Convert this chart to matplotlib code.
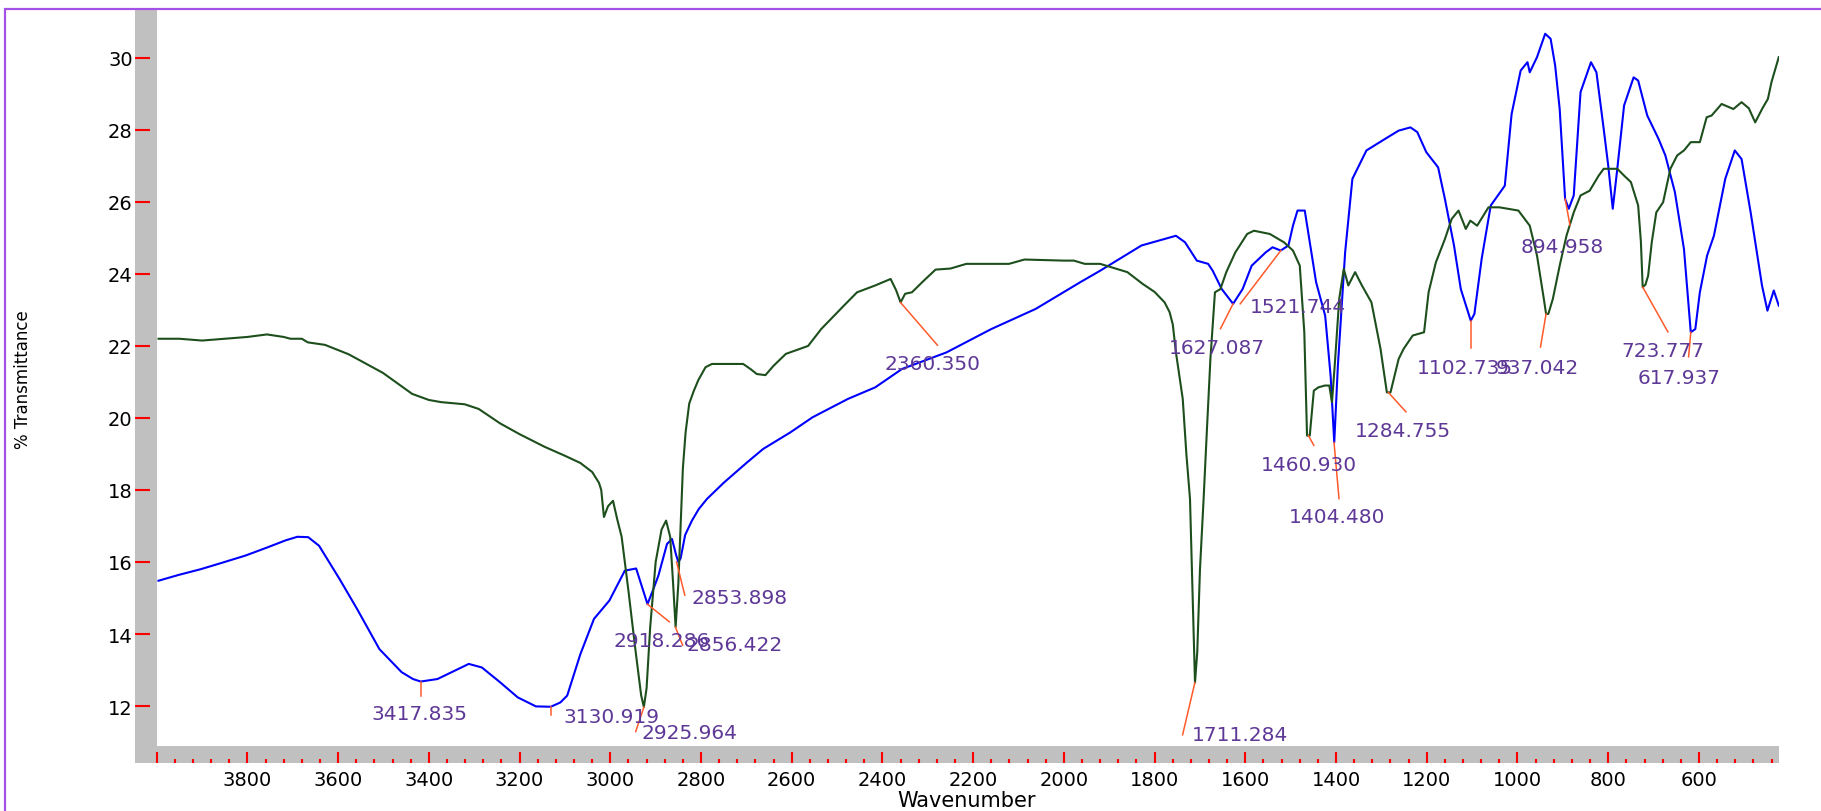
import numpy as np
import matplotlib.pyplot as plt
from matplotlib.patches import Rectangle
from matplotlib.ticker import MultipleLocator, FuncFormatter

### FTIR spectra ###

# blue spectrum (wavenumber, % transmittance)
blue_wn = [3996, 3952, 3903, 3853, 3804, 3755, 3716, 3690, 3666, 3642, 3597, 3558, 3509, 3460, 3435,
           3418, 3381, 3340, 3312, 3283, 3243, 3204, 3164, 3131, 3110, 3095, 3066, 3036, 3002, 2968,
           2943, 2930, 2918, 2905, 2894, 2875, 2864, 2855, 2850, 2845, 2835, 2820, 2805, 2787, 2750,
           2700, 2663, 2603, 2554, 2476, 2416, 2357, 2259, 2160, 2062, 1964, 1920, 1890, 1829, 1753,
           1733, 1707, 1682, 1672, 1652, 1627, 1606, 1586, 1555, 1540, 1522, 1505, 1495, 1485, 1469,
           1444, 1424, 1412, 1404, 1396, 1380, 1364, 1333, 1292, 1262, 1236, 1221, 1201, 1175, 1160,
           1140, 1125, 1103, 1095, 1079, 1059, 1028, 1013, 993, 978, 973, 957, 939, 927, 917,
           907, 895, 887, 876, 861, 838, 826, 810, 800, 790, 780, 765, 744, 734, 714,
           689, 674, 653, 633, 618, 608, 598, 582, 567, 542, 521, 506, 486, 461, 449,
           435, 424]
blue_t = [15.48, 15.64, 15.80, 15.99, 16.18, 16.41, 16.60, 16.70, 16.69, 16.45, 15.53, 14.69, 13.58, 12.94, 12.75,
          12.68, 12.75, 13.00, 13.17, 13.07, 12.66, 12.24, 11.99, 11.98, 12.10, 12.29, 13.44, 14.42, 14.93, 15.76,
          15.82, 15.30, 14.83, 15.25, 15.62, 16.50, 16.64, 16.20, 16.00, 16.10, 16.75, 17.15, 17.47, 17.75, 18.20,
          18.75, 19.14, 19.60, 20.02, 20.53, 20.85, 21.36, 21.82, 22.47, 23.03, 23.77, 24.09, 24.32, 24.79, 25.06,
          24.88, 24.37, 24.28, 24.09, 23.58, 23.17, 23.58, 24.23, 24.60, 24.74, 24.65, 24.79, 25.34, 25.76, 25.76,
          23.77, 22.84, 21.17, 19.32, 21.45, 24.60, 26.64, 27.43, 27.75, 27.98, 28.07, 27.94, 27.38, 26.96, 26.08,
          24.79, 23.58, 22.70, 22.89, 24.42, 25.90, 26.45, 28.44, 29.65, 29.88, 29.60, 30.02, 30.67, 30.53, 29.79,
          28.58, 26.08, 25.81, 26.18, 29.05, 29.88, 29.60, 28.03, 27.01, 25.81, 26.92, 28.68, 29.46, 29.37, 28.40,
          27.75, 27.29, 26.27, 24.69, 22.38, 22.47, 23.49, 24.51, 25.06, 26.64, 27.43, 27.19, 25.71, 23.68, 22.98,
          23.54, 23.12]

# green spectrum (wavenumber, % transmittance)
green_wn = [3996, 3950, 3900, 3850, 3800, 3757, 3720, 3705, 3680, 3667, 3629, 3577, 3501, 3437, 3400,
            3373, 3321, 3290, 3243, 3200, 3145, 3100, 3066, 3040, 3025, 3020, 3014, 3005, 2994, 2985,
            2975, 2960, 2945, 2932, 2926, 2920, 2912, 2900, 2887, 2877, 2868, 2862, 2856, 2850, 2845,
            2840, 2834, 2826, 2816, 2806, 2790, 2776, 2707, 2690, 2677, 2658, 2640, 2613, 2564, 2535,
            2485, 2456, 2416, 2382, 2370, 2360, 2350, 2335, 2310, 2283, 2250, 2215, 2121, 2087, 2000,
            1978, 1954, 1920, 1860, 1826, 1800, 1778, 1767, 1760, 1753, 1747, 1738, 1730, 1722, 1716,
            1711, 1706, 1700, 1692, 1685, 1677, 1667, 1655, 1642, 1622, 1596, 1581, 1546, 1515, 1495,
            1480, 1470, 1464, 1458, 1449, 1439, 1425, 1415, 1409, 1403, 1393, 1383, 1373, 1358, 1343,
            1322, 1302, 1288, 1280, 1262, 1251, 1231, 1206, 1196, 1180, 1160, 1145, 1130, 1114, 1104,
            1089, 1064, 1040, 998, 973, 957, 942, 937, 932, 922, 907, 892, 876, 861, 841,
            821, 810, 780, 765, 750, 734, 728, 724, 718, 712, 704, 694, 679, 663, 648,
            633, 618, 598, 583, 572, 550, 524, 506, 490, 476, 460, 448, 440, 424]
green_t = [22.20, 22.20, 22.15, 22.20, 22.25, 22.32, 22.25, 22.20, 22.20, 22.10, 22.03, 21.77, 21.25, 20.67, 20.50,
           20.44, 20.38, 20.25, 19.85, 19.55, 19.20, 18.95, 18.75, 18.50, 18.20, 18.00, 17.25, 17.55, 17.70, 17.20,
           16.70, 15.20, 13.60, 12.30, 11.97, 12.50, 14.20, 16.00, 16.90, 17.15, 16.70, 15.50, 14.19, 15.40, 17.00,
           18.60, 19.60, 20.40, 20.75, 21.05, 21.41, 21.50, 21.50, 21.35, 21.22, 21.19, 21.45, 21.78, 22.00, 22.47,
           23.12, 23.49, 23.68, 23.86, 23.55, 23.21, 23.45, 23.49, 23.80, 24.12, 24.15, 24.28, 24.28, 24.40, 24.37,
           24.37, 24.28, 24.28, 24.05, 23.72, 23.50, 23.21, 22.94, 22.60, 21.82, 21.30, 20.53, 19.00, 17.75, 15.00,
           12.65, 13.50, 15.80, 17.75, 19.60, 21.64, 23.49, 23.58, 24.05, 24.60, 25.11, 25.20, 25.11, 24.88, 24.65,
           24.23, 22.38, 19.51, 19.51, 20.76, 20.85, 20.90, 20.90, 20.44, 21.45, 23.31, 24.14, 23.68, 24.05, 23.68,
           23.21, 21.92, 20.71, 20.71, 21.64, 21.92, 22.29, 22.38, 23.49, 24.32, 24.97, 25.53, 25.76, 25.25, 25.48,
           25.34, 25.85, 25.85, 25.76, 25.34, 24.51, 23.31, 22.89, 22.89, 23.31, 24.23, 25.06, 25.71, 26.18, 26.31,
           26.73, 26.92, 26.92, 26.73, 26.55, 25.90, 24.90, 23.63, 23.70, 23.95, 24.88, 25.71, 25.99, 26.92, 27.29,
           27.43, 27.66, 27.66, 28.35, 28.40, 28.72, 28.58, 28.77, 28.60, 28.21, 28.60, 28.86, 29.33, 30.02]

# peak labels: text, peak position, end of leader line, label anchor (left edge, middle)
peak_text = ['3417.835', '3130.919', '2925.964', '2918.286', '2856.422', '2853.898', '2360.350',
             '1711.284', '1627.087', '1521.744', '1460.930', '1404.480', '1284.755', '1102.735',
             '937.042', '894.958', '723.777', '617.937']
peak_wn = [3417.835, 3130.919, 2925.964, 2918.286, 2856.422, 2853.898, 2360.350,
           1711.284, 1627.087, 1521.744, 1460.930, 1404.480, 1284.755, 1102.735,
           937.042, 894.958, 723.777, 617.937]
peak_t = [12.68, 11.98, 11.97, 14.83, 14.19, 16.00, 23.21,
          12.65, 23.17, 24.65, 19.51, 19.32, 20.71, 22.70,
          22.89, 26.08, 23.63, 22.38]
lead_wn = [3417.835, 3130.919, 2944.0, 2870.0, 2840.6, 2835.8, 2278.7,
           1738.3, 1654.8, 1611.3, 1449.0, 1393.5, 1246.0, 1102.735,
           949.3, 884.3, 668.4, 622.8]
lead_t = [12.29, 11.75, 11.29, 14.34, 13.69, 15.08, 22.02,
          11.20, 22.48, 23.17, 19.24, 17.76, 20.17, 21.93,
          21.97, 25.35, 22.39, 21.70]
label_wn = [3527.6, 3103.4, 2932.3, 2993.2, 2831.0, 2821.0, 2396.6,
            1718.7, 1768.3, 1591.0, 1565.5, 1503.8, 1357.8, 1221.0,
            1048.7, 993.0, 769.9, 734.4]
label_t = [11.78, 11.71, 11.27, 13.83, 13.72, 15.02, 21.51,
           11.20, 21.97, 23.10, 18.71, 17.26, 19.64, 21.40,
           21.40, 24.77, 21.86, 21.12]

### Figure layout in pixels (1821 x 812) ###
W, H = 1821, 812
fig = plt.figure(figsize=(W / 100, H / 100), dpi=100)

def fx(px):
    return px / W

def fy(py):
    return 1 - py / H

ax = fig.add_axes([fx(156.7), fy(747), fx(1779) - fx(156.7), fy(11) - fy(747)])

# grey frame bars behind the ticks, purple outer border
gray = '#c0c0c0'
fig.add_artist(Rectangle((fx(135), fy(764)), fx(156.7) - fx(135), fy(10) - fy(764),
                         transform=fig.transFigure, facecolor=gray, edgecolor='none', zorder=-1))
fig.add_artist(Rectangle((fx(135), fy(764)), fx(1779) - fx(135), fy(747) - fy(764),
                         transform=fig.transFigure, facecolor=gray, edgecolor='none', zorder=-1))
fig.add_artist(Rectangle((fx(5), fy(900)), 1.2, fy(10) - fy(900), transform=fig.transFigure,
                         fill=False, edgecolor='#a452e6', linewidth=1.6, zorder=5))

# spectra
ax.plot(blue_wn, blue_t, color='#0000ff', lw=1.5)
ax.plot(green_wn, green_t, color='#1d4f1d', lw=1.5)

# peak leaders and labels
for i in range(len(peak_text)):
    ax.plot([peak_wn[i], lead_wn[i]], [peak_t[i], lead_t[i]], color='#ff5a2a', lw=1.1)
    ax.text(label_wn[i], label_t[i], peak_text[i], ha='left', va='center',
            color='#5e3896', fontsize=14.5, family='DejaVu Sans')

ax.set_xlim(4000, 423.5)
ax.set_ylim(10.89, 31.33)

# axes styling: ticks drawn on the grey bars
for s in ['top', 'right', 'left', 'bottom']:
    ax.spines[s].set_visible(False)
ax.spines['left'].set_position(('outward', 15.6))
ax.spines['bottom'].set_position(('outward', 12.2))

ax.xaxis.set_major_locator(MultipleLocator(200))
ax.xaxis.set_minor_locator(MultipleLocator(40))
ax.xaxis.set_major_formatter(FuncFormatter(lambda v, p: '' if v >= 3999 else '%d' % v))
ax.yaxis.set_major_locator(MultipleLocator(2))
ax.set_yticks(np.arange(12, 31, 2))

ax.tick_params(axis='x', which='major', direction='in', length=8, width=1.5, color='#ff0000',
               pad=5, labelsize=14, labelcolor='black')
ax.tick_params(axis='x', which='minor', direction='in', length=3, width=1.5, color='#ff0000')
ax.tick_params(axis='y', which='major', direction='in', length=11, width=1.5, color='#ff0000',
               pad=1.7, labelsize=14, labelcolor='black')

fig.text(fx(967), fy(801), 'Wavenumber', ha='center', va='center', fontsize=15)
fig.text(fx(23), fy(380), '% Transmittance', ha='center', va='center', rotation=90, fontsize=12)

fig.savefig('out.png', dpi=100)
